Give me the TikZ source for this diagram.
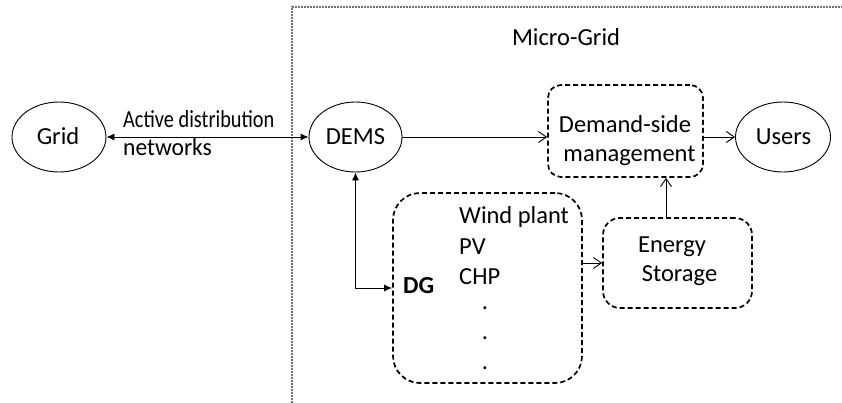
\documentclass[tikz,border=0pt]{standalone}
\usepackage{fontspec}
\setmainfont{Carlito}
\usetikzlibrary{shapes.geometric,arrows.meta}

\begin{document}
\begin{tikzpicture}[x=1pt,y=-1pt,
  every node/.style={font=\fontsize{24.5}{29.5}\selectfont},
  oval/.style={draw,ellipse,line width=0.9pt,inner sep=0pt},
  dbox/.style={draw,dashed,line width=1.7pt,dash pattern=on 5pt off 3pt,inner sep=0pt},
  txt/.style={inner sep=0pt,anchor=base},
  ltxt/.style={inner sep=0pt,anchor=base west},
  link/.style={line width=0.9pt},
  solidtip/.style={link,{Latex[length=8pt,width=7pt]}-{Latex[length=8pt,width=7pt]}},
  opentip/.style={link,-{Straight Barb[length=8pt,width=11pt,line width=0.9pt]}},
  frame/.style={draw=black!55,line width=1.3pt,dash pattern=on 2pt off 1pt}
]
\useasboundingbox (0,0) rectangle (842,403);

% micro-grid boundary
\coordinate (fb) at (292,403);
\coordinate (fc) at (292,7);
\coordinate (fr) at (842,7);
\draw[frame] (fb) -- (fc) -- (fr);
\node[txt] (mg) at (566,46) {Micro-Grid};

% ovals
\node[oval,minimum width=94pt,minimum height=70pt] (grid) at (59,137) {};
\node[txt] (gridt) at (58,145) {Grid};
\node[oval,minimum width=93pt,minimum height=70pt] (dems) at (355.5,137) {};
\node[txt] (demst) at (355.5,145) {DEMS};
\node[oval,minimum width=95pt,minimum height=70pt] (users) at (783,137) {};
\node[txt] (userst) at (783.5,145) {Users};

% dashed blocks
\node[dbox,rounded corners=13pt,minimum width=155pt,minimum height=92pt] (dsm) at (625.5,131) {};
\node[txt] (dsm1) at (625,133) {Demand-side};
\node[txt] (dsm2) at (629.5,162) {management};

\node[dbox,rounded corners=27pt,minimum width=189pt,minimum height=190pt] (dg) at (487.5,288) {};
\node[ltxt,font=\fontsize{24.5}{29.5}\selectfont\bfseries] (dgt) at (403,293) {DG};
\node[ltxt] (wp) at (459,223) {Wind plant};
\node[ltxt] (pv) at (459,254) {PV};
\node[ltxt] (chp) at (459,284) {CHP};
\node[txt] (d1) at (485,309) {.};
\node[txt] (d2) at (485,339) {.};
\node[txt] (d3) at (485,369) {.};

\node[dbox,rounded corners=17pt,minimum width=149pt,minimum height=90pt] (es) at (677.5,263) {};
\node[txt] (es1) at (672,252) {Energy};
\node[txt] (es2) at (679.5,281) {Storage};

% grid link label
\node[ltxt] (adn1) at (123,128) {\scalebox{0.83}[1]{Active distribution}};
\node[ltxt] (adn2) at (123,156) {\scalebox{0.96}[1]{networks}};

% connectors
\draw[solidtip] (grid.east) -- (dems.west);
\draw[solidtip] (dems.south) |- (dg.west);
\draw[opentip] (dems.east) -- (dems.east -| dsm.west);
\draw[opentip] (dsm.east |- users.west) -- (users.west);
\draw[opentip] (dg.east |- es.west) -- (es.west);
\coordinate (esup) at ([xshift=-11.5pt]es.north);
\draw[opentip] (esup) -- (esup |- dsm.south);
\end{tikzpicture}
\end{document}
